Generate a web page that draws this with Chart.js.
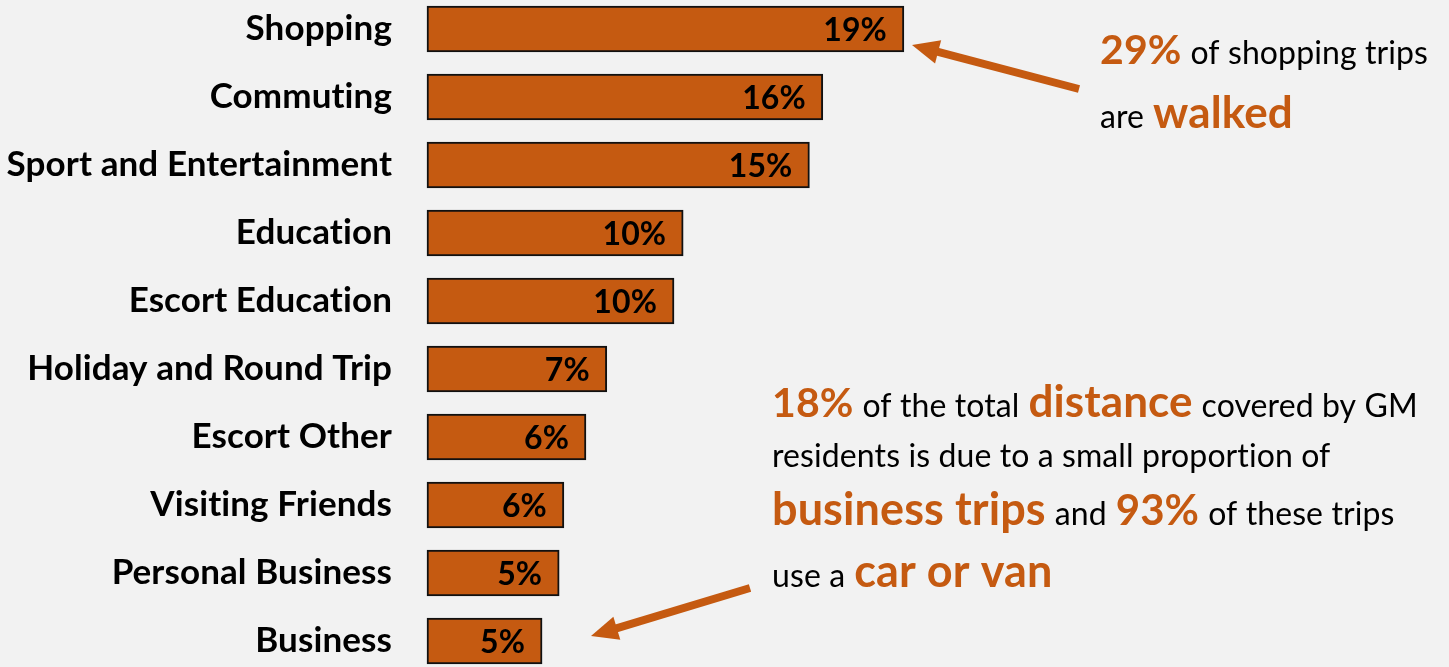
<!DOCTYPE html>
<html>
<head>
<meta charset="utf-8">
<script src="https://cdn.jsdelivr.net/npm/chart.js@4.4.1/dist/chart.umd.min.js"></script>
<style>
  body { margin: 0; background: #f2f2f2; }
  canvas { display: block; }
</style>
</head>
<body>
<canvas id="trips-chart" width="1449" height="667"></canvas>
<script>
// Trip purposes, share of all trips
const categories = ['Shopping', 'Commuting', 'Sport and Entertainment', 'Education', 'Escort Education',
    'Holiday and Round Trip', 'Escort Other', 'Visiting Friends', 'Personal Business', 'Business'];
const shares = [19.23, 15.96, 15.42, 10.33, 9.96, 7.25, 6.41, 5.52, 5.33, 4.64];
const shareLabels = ['19%', '16%', '15%', '10%', '10%', '7%', '6%', '6%', '5%', '5%'];

const orange = '#c55a11';
const fontFamily = 'Lato, "Open Sans", sans-serif';

// rich text: pieces drawn one after another on the same baseline
function drawRich(ctx, x, y, parts) {
    parts.forEach(p => {
        ctx.font = (p.bold ? 'bold ' : '') + p.size + 'px ' + fontFamily;
        ctx.fillStyle = p.bold ? orange : '#000';
        ctx.fillText(p.text, x, y);
        x += ctx.measureText(p.text).width + 9;
    });
}

function drawArrow(ctx, x1, y1, x2, y2) {
    const ang = Math.atan2(y2 - y1, x2 - x1);
    const headLen = 27, headHalf = 12;
    const bx = x2 - headLen * Math.cos(ang), by = y2 - headLen * Math.sin(ang);
    ctx.strokeStyle = orange;
    ctx.fillStyle = orange;
    ctx.lineWidth = 8;
    ctx.beginPath();
    ctx.moveTo(x1, y1);
    ctx.lineTo(bx + 4 * Math.cos(ang), by + 4 * Math.sin(ang));
    ctx.stroke();
    ctx.beginPath();
    ctx.moveTo(x2, y2);
    ctx.lineTo(bx + headHalf * Math.sin(ang), by - headHalf * Math.cos(ang));
    ctx.lineTo(bx - headHalf * Math.sin(ang), by + headHalf * Math.cos(ang));
    ctx.closePath();
    ctx.fill();
}

const background = {
    id: 'background',
    beforeDraw(chart) {
        const ctx = chart.ctx;
        // a tiny letter spacing keeps Lato from joining "ti" into a ligature
        ctx.letterSpacing = '0.1px';
        ctx.save();
        ctx.fillStyle = '#f2f2f2';
        ctx.fillRect(0, 0, chart.width, chart.height);
        ctx.restore();
    }
};

// percentage inside the end of each bar
const barLabels = {
    id: 'barLabels',
    afterDatasetsDraw(chart) {
        const ctx = chart.ctx;
        ctx.save();
        ctx.font = 'bold 32px ' + fontFamily;
        ctx.fillStyle = '#000';
        ctx.textAlign = 'right';
        ctx.textBaseline = 'middle';
        chart.getDatasetMeta(0).data.forEach((bar, i) => {
            ctx.fillText(shareLabels[i], bar.x - 17, bar.y + 2);
        });
        ctx.restore();
    }
};

// callouts on the right
const callouts = {
    id: 'callouts',
    afterDraw(chart) {
        const ctx = chart.ctx;
        ctx.save();
        ctx.textAlign = 'left';
        ctx.textBaseline = 'alphabetic';
        drawRich(ctx, 1100, 64, [
            { text: '29%', bold: true, size: 41 },
            { text: 'of shopping trips', size: 32 }
        ]);
        drawRich(ctx, 1100, 128, [
            { text: 'are', size: 32 },
            { text: 'walked', bold: true, size: 44 }
        ]);
        drawRich(ctx, 772, 417, [
            { text: '18%', bold: true, size: 41 },
            { text: 'of the total', size: 32 },
            { text: 'distance', bold: true, size: 44 },
            { text: 'covered by GM', size: 32 }
        ]);
        drawRich(ctx, 772, 467, [
            { text: 'residents is due to a small proportion of', size: 32 }
        ]);
        drawRich(ctx, 772, 525, [
            { text: 'business trips', bold: true, size: 45 },
            { text: 'and', size: 32 },
            { text: '93%', bold: true, size: 42 },
            { text: 'of these trips', size: 32 }
        ]);
        drawRich(ctx, 772, 587, [
            { text: 'use a', size: 32 },
            { text: 'car or van', bold: true, size: 45 }
        ]);
        drawArrow(ctx, 1079, 89, 912, 45);
        drawArrow(ctx, 750, 588, 591, 636);
        ctx.restore();
    }
};

const ctx = document.getElementById('trips-chart').getContext('2d');
new Chart(ctx, {
    type: 'bar',
    data: {
        labels: categories,
        datasets: [{
            data: shares,
            backgroundColor: orange,
            borderColor: '#111',
            borderWidth: 2,
            borderSkipped: false,
            barThickness: 46,
            clip: false
        }]
    },
    options: {
        indexAxis: 'y',
        responsive: false,
        animation: false,
        layout: { padding: { top: 29, bottom: 26, left: 0, right: 30 } },
        plugins: {
            legend: { display: false },
            tooltip: { enabled: false }
        },
        scales: {
            x: { display: false, min: 0, max: 40 },
            y: {
                offset: false,
                grid: { display: false, drawTicks: false },
                border: { display: false },
                afterFit(scale) {
                    scale.width = 427;
                    scale.paddingTop = 0;
                    scale.paddingBottom = 0;
                },
                ticks: {
                    padding: 35,
                    color: '#000',
                    font: { family: fontFamily, size: 35, weight: 'bold' }
                }
            }
        }
    },
    plugins: [background, barLabels, callouts]
});
</script>
</body>
</html>
